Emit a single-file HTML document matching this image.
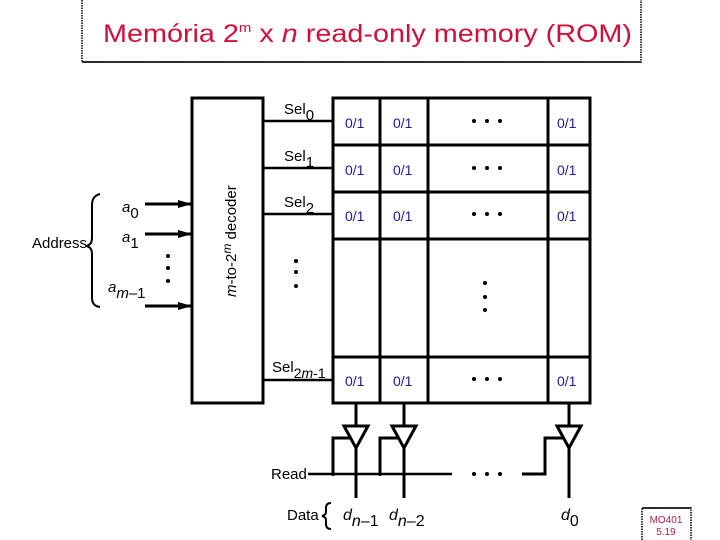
<!DOCTYPE html>
<html><head><style>
body{margin:0;background:#fff;}
svg{display:block}
text{font-family:"Liberation Sans",sans-serif;}
</style></head><body>
<svg width="720" height="540" viewBox="0 0 720 540" xmlns="http://www.w3.org/2000/svg">
<!-- title box -->
<path d="M82 0 V62 H641 V0" fill="none" stroke="#000" stroke-width="1.5" stroke-dasharray="1.5 1"/>
<path d="M82 62 H641" stroke="#000" stroke-width="1.5"/>
<text x="103" y="42" font-size="25" fill="#d0103a" font-family="Liberation Mono, monospace" textLength="529" lengthAdjust="spacingAndGlyphs">Memória 2<tspan dy="-10" font-size="13">m</tspan><tspan dy="10"> x </tspan><tspan font-style="italic">n</tspan> read-only memory (ROM)</text>

<!-- decoder -->
<rect x="192" y="98" width="71" height="305" fill="none" stroke="#000" stroke-width="3"/>
<text transform="translate(236,297) rotate(-90)" font-size="15"><tspan font-style="italic">m</tspan>-to-2<tspan font-style="italic" dy="-5" font-size="12">m</tspan><tspan dy="5"> decoder</tspan></text>

<!-- address -->
<text x="32" y="248" font-size="15">Address</text>
<path d="M100 194 Q92 196 92 205 V238 Q92 245 86 246 Q92 247 92 254 V298 Q92 306 100 307" fill="none" stroke="#000" stroke-width="2"/>
<text x="122" y="212" font-size="15" font-style="italic">a<tspan dy="6" font-style="normal">0</tspan></text>
<text x="122" y="242" font-size="15" font-style="italic">a<tspan dy="6" font-style="normal">1</tspan></text>
<text x="108" y="292" font-size="15" font-style="italic">a<tspan dy="6">m</tspan><tspan font-style="normal">–1</tspan></text>
<g stroke="#000" stroke-width="3">
<line x1="145" y1="204" x2="192" y2="204"/>
<line x1="145" y1="234" x2="192" y2="234"/>
<line x1="145" y1="306" x2="192" y2="306"/>
</g>
<g fill="#000">
<path d="M178 200 L192 204 L178 208Z"/><path d="M178 230 L192 234 L178 238Z"/><path d="M178 302 L192 306 L178 310Z"/>
<circle cx="168" cy="256" r="2"/><circle cx="168" cy="268" r="2"/><circle cx="168" cy="281" r="2"/>
<circle cx="296" cy="261" r="2"/><circle cx="296" cy="272" r="2"/><circle cx="296" cy="286" r="2"/>
<circle cx="485" cy="283" r="2"/><circle cx="485" cy="297" r="2"/><circle cx="485" cy="310" r="2"/>
</g>

<!-- sel lines -->
<g stroke="#000" stroke-width="2.5">
<line x1="263" y1="121" x2="333" y2="121"/>
<line x1="263" y1="168" x2="333" y2="168"/>
<line x1="263" y1="214" x2="333" y2="214"/>
<line x1="263" y1="380" x2="333" y2="380"/>
</g>
<text x="284" y="114" font-size="15">Sel<tspan dy="6">0</tspan></text>
<text x="284" y="161" font-size="15">Sel<tspan dy="6">1</tspan></text>
<text x="284" y="207" font-size="15">Sel<tspan dy="6">2</tspan></text>
<text x="272" y="372" font-size="15">Sel<tspan dy="6" font-size="14">2<tspan font-style="italic">m</tspan>-1</tspan></text>

<!-- grid -->
<g stroke="#000" stroke-width="3" fill="none">
<rect x="333" y="98" width="257" height="305"/>
<line x1="380" y1="98" x2="380" y2="403"/>
<line x1="428" y1="98" x2="428" y2="403"/>
<line x1="548" y1="98" x2="548" y2="403"/>
<line x1="333" y1="145" x2="590" y2="145"/>
<line x1="333" y1="192" x2="590" y2="192"/>
<line x1="333" y1="239" x2="590" y2="239"/>
<line x1="333" y1="357" x2="590" y2="357"/>
</g>
<g font-size="14" fill="#1a1a9a">
<text x="345" y="128">0/1</text><text x="393" y="128">0/1</text><text x="557" y="128">0/1</text>
<text x="345" y="175">0/1</text><text x="393" y="175">0/1</text><text x="557" y="175">0/1</text>
<text x="345" y="221">0/1</text><text x="393" y="221">0/1</text><text x="557" y="221">0/1</text>
<text x="345" y="386">0/1</text><text x="393" y="386">0/1</text><text x="557" y="386">0/1</text>
</g>
<g fill="#000">
<circle cx="474" cy="121" r="2"/><circle cx="487" cy="121" r="2"/><circle cx="500" cy="121" r="2"/>
<circle cx="474" cy="168" r="2"/><circle cx="487" cy="168" r="2"/><circle cx="500" cy="168" r="2"/>
<circle cx="474" cy="214" r="2"/><circle cx="487" cy="214" r="2"/><circle cx="500" cy="214" r="2"/>
<circle cx="474" cy="379" r="2"/><circle cx="487" cy="379" r="2"/><circle cx="500" cy="379" r="2"/>
<circle cx="474" cy="474" r="2"/><circle cx="487" cy="474" r="2"/><circle cx="500" cy="474" r="2"/>
<circle cx="333" cy="474" r="2"/><circle cx="380" cy="474" r="2"/>
</g>

<!-- buffers -->
<g stroke="#000" stroke-width="3" fill="none" stroke-linejoin="miter">
<path d="M356 403 V426 M344 426 H368 L356 448 Z M356 448 V498"/>
<path d="M404 403 V426 M392 426 H416 L404 448 Z M404 448 V498"/>
<path d="M569 403 V426 M557 426 H581 L569 448 Z M569 448 V498"/>
<path d="M333 474 V438 H350 M380 474 V438 H398 M522 474 H545 V438 H563"/>
<line x1="308" y1="474" x2="452" y2="474" stroke-width="2.5"/>
</g>
<text x="271" y="479" font-size="15">Read</text>
<text x="287" y="520" font-size="15">Data</text>
<path d="M331 503 Q326 503 326 508 V512 Q326 515 322 516 Q326 517 326 520 V524 Q326 529 331 529" fill="none" stroke="#000" stroke-width="2"/>
<text x="343" y="520" font-size="16" font-style="italic">d<tspan dy="6">n</tspan><tspan font-style="normal">–1</tspan></text>
<text x="389" y="520" font-size="16" font-style="italic">d<tspan dy="6">n</tspan><tspan font-style="normal">–2</tspan></text>
<text x="561" y="520" font-size="16" font-style="italic">d<tspan dy="6" font-style="normal">0</tspan></text>

<!-- footer box -->
<path d="M642 540 V508 H691 V540" fill="none" stroke="#000" stroke-width="1.5" stroke-dasharray="1.5 1"/>
<path d="M642 508 H691" stroke="#000" stroke-width="1.5"/>
<text x="666" y="523" font-size="10" fill="#b0204a" text-anchor="middle" font-family="Liberation Serif, serif">MO401</text>
<text x="666" y="535" font-size="10" fill="#b0204a" text-anchor="middle" font-family="Liberation Serif, serif">5.19</text>
</svg>
</body></html>
